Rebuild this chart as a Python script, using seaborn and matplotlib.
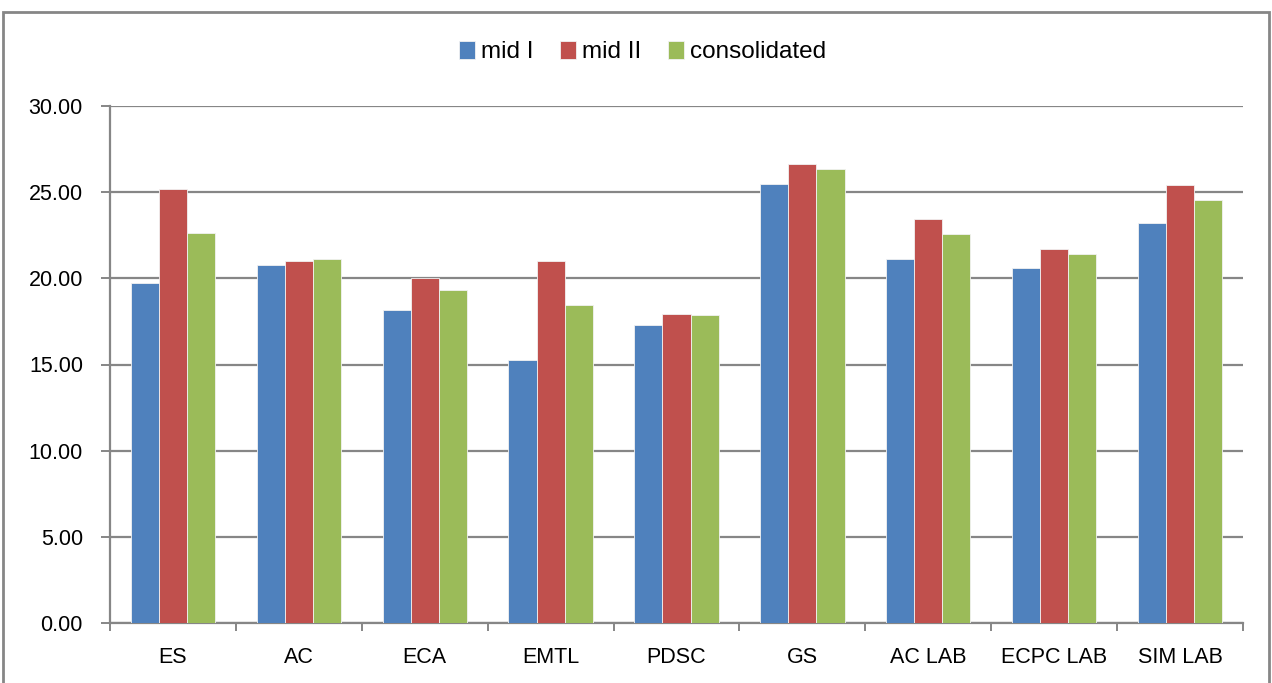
import pandas as pd
import matplotlib
matplotlib.use("Agg")
import matplotlib.pyplot as plt
import seaborn as sns
from matplotlib import font_manager
from matplotlib.patches import Rectangle
from matplotlib.ticker import FixedLocator

subjects = ["ES", "AC", "ECA", "EMTL", "PDSC", "GS", "AC LAB", "ECPC LAB", "SIM LAB"]
mid_1 = [19.74, 20.80, 18.14, 15.24, 17.27, 25.50, 21.13, 20.59, 23.22]
mid_2 = [25.16, 21.01, 20.03, 20.98, 17.92, 26.61, 23.47, 21.69, 25.39]
consolidated = [22.64, 21.11, 19.32, 18.43, 17.87, 26.35, 22.56, 21.40, 24.54]
series_names = ["mid I", "mid II", "consolidated"]
colors = ["#4F81BD", "#C0504D", "#9BBB59"]

# long form table for seaborn
df = pd.DataFrame(
    {
        "subject": subjects * 3,
        "score": mid_1 + mid_2 + consolidated,
        "exam": [n for n in series_names for _ in subjects],
    }
)

sns.set_style("white")
# narrow font is closest to the Calibri look, fall back to regular width
installed = {f.name for f in font_manager.fontManager.ttflist}
if "Liberation Sans Narrow" in installed:
    plt.rcParams["font.family"] = ["Liberation Sans Narrow", "DejaVu Sans"]
    fs, leg_fs = 19, 21
else:
    plt.rcParams["font.family"] = ["Liberation Sans", "DejaVu Sans"]
    fs, leg_fs = 15.5, 17.5
plt.rcParams["text.color"] = "black"
plt.rcParams["xtick.color"] = "black"
plt.rcParams["ytick.color"] = "black"
grid_col = "#868686"

fig = plt.figure(figsize=(12.72, 6.83), dpi=100)
ax = fig.add_axes([110 / 1272, 60 / 683, 1133 / 1272, 517 / 683])

sns.barplot(
    data=df,
    x="subject",
    y="score",
    hue="exam",
    palette=colors,
    saturation=1,
    width=0.67,
    gap=0,
    edgecolor="#f2f2f2",
    linewidth=0.6,
    ax=ax,
    zorder=3,
)

ax.set_ylim(0, 30)
ax.set_xlim(-0.5, len(subjects) - 0.5)
ax.set_yticks([0, 5, 10, 15, 20, 25, 30])
ax.set_yticklabels([f"{v:.2f}" for v in [0, 5, 10, 15, 20, 25, 30]], fontsize=fs)
ax.yaxis.grid(True, color=grid_col, linewidth=1.6, zorder=0)
ax.set_axisbelow(True)
ax.tick_params(axis="y", length=6.5, width=1.4, color=grid_col, left=True, pad=13)

# category labels without ticks, boundary ticks as minor
ax.tick_params(axis="x", which="major", length=0, pad=17, labelsize=fs)
ax.xaxis.set_minor_locator(FixedLocator([i - 0.5 for i in range(len(subjects) + 1)]))
ax.tick_params(axis="x", which="minor", length=6, width=1.4, color=grid_col, bottom=True)
ax.set_xlabel("")
ax.set_ylabel("")

for side in ["top", "right"]:
    ax.spines[side].set_visible(False)
for side in ["left", "bottom"]:
    ax.spines[side].set_color(grid_col)
    ax.spines[side].set_linewidth(1.6)

ax.legend(
    loc="center",
    bbox_to_anchor=(0.505, 1 - 52 / 683),
    bbox_transform=fig.transFigure,
    ncol=3,
    frameon=False,
    fontsize=leg_fs,
    handlelength=0.65,
    handleheight=0.8,
    handletextpad=0.25,
    columnspacing=1.1,
)

# outer chart border
fig.patches.append(
    Rectangle(
        (3 / 1272, -0.05),
        1266 / 1272,
        1.05 - 12 / 683,
        transform=fig.transFigure,
        fill=False,
        edgecolor=grid_col,
        linewidth=2,
    )
)

fig.savefig("out.png", dpi=100)
